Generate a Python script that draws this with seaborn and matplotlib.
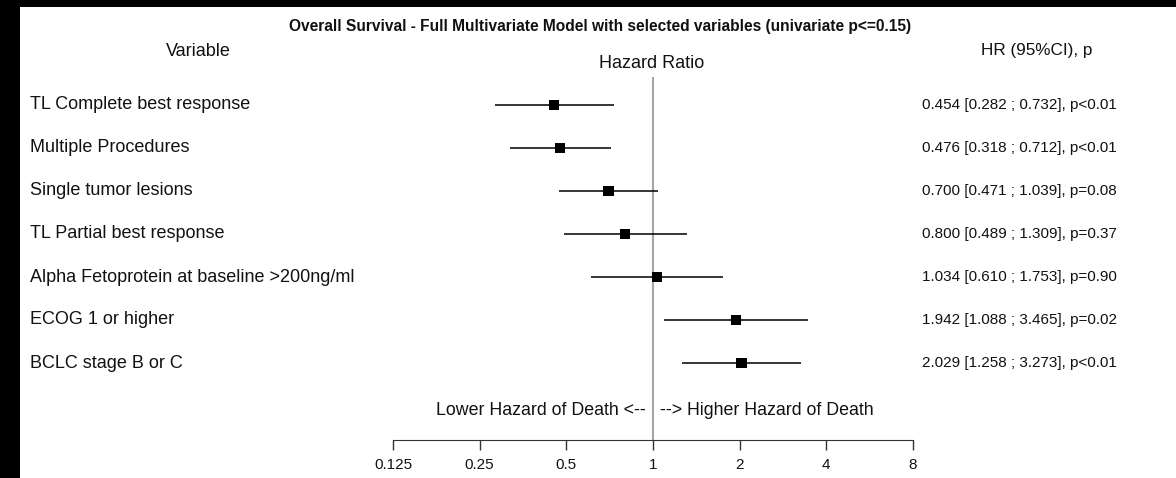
import matplotlib
matplotlib.use("Agg")
import matplotlib.pyplot as plt
import matplotlib.patches as mpatches
import matplotlib.transforms as mtransforms
import numpy as np
import pandas as pd
import seaborn as sns

# Data.
variables = [
    "TL Complete best response",
    "Multiple Procedures",
    "Single tumor lesions",
    "TL Partial best response",
    "Alpha Fetoprotein at baseline >200ng/ml",
    "ECOG 1 or higher",
    "BCLC stage B or C",
]
hr = [0.454, 0.476, 0.700, 0.800, 1.034, 1.942, 2.029]
ci_low = [0.282, 0.318, 0.471, 0.489, 0.610, 1.088, 1.258]
ci_high = [0.732, 0.712, 1.039, 1.309, 1.753, 3.465, 3.273]
p_text = ["p<0.01", "p<0.01", "p=0.08", "p=0.37", "p=0.90", "p=0.02", "p<0.01"]
x_ticks = [0.125, 0.25, 0.5, 1, 2, 4, 8]
x_tick_labels = ["0.125", "0.25", "0.5", "1", "2", "4", "8"]

title = "Overall Survival - Full Multivariate Model with selected variables (univariate p<=0.15)"

df = pd.DataFrame({
    "variable": variables,
    "hr": hr,
    "low": ci_low,
    "high": ci_high,
    "p": p_text,
})
df["row"] = np.arange(len(df))

W, H = 1176, 478
sns.set_style("white")
plt.rcParams["font.family"] = ["Liberation Sans", "DejaVu Sans"]
txt_color = "#111111"

fig = plt.figure(figsize=(W / 100, H / 100), dpi=100, facecolor="#000000")
# white page with black strip on top and left
fig.patches.append(mpatches.Rectangle(
    (20 / W, 0), 1 - 20 / W, 1 - 7 / H, transform=fig.transFigure,
    facecolor="white", edgecolor="none", zorder=-10))

# axes in pixel layout
ax_left, ax_right, ax_top, ax_bottom = 393, 913, 77, 440
ax = fig.add_axes([ax_left / W, 1 - ax_bottom / H,
                   (ax_right - ax_left) / W, (ax_bottom - ax_top) / H])
ax.patch.set_alpha(0)
ax.set_zorder(5)

row0, step = 105.0, 43.0
ax.set_xscale("log", base=2)
ax.set_xlim(0.125, 8)
ax.set_ylim((ax_bottom - row0) / step, -(row0 - ax_top) / step)

ax.axvline(1, color="#a6a6a6", lw=1.5, zorder=1)
ax.hlines(df["row"], df["low"], df["high"], color="#000000", lw=1.1, zorder=2)
sns.scatterplot(data=df, x="hr", y="row", marker="s", s=55, color="#000000",
                edgecolor="none", ax=ax, zorder=3, legend=False)

ax.set_xticks(x_ticks)
ax.set_xticklabels(x_tick_labels, fontsize=11)
ax.minorticks_off()
ax.set_yticks([])
ax.set_xlabel("")
ax.set_ylabel("")
for side in ["top", "right", "left"]:
    ax.spines[side].set_visible(False)
ax.spines["bottom"].set_bounds(0.125, 8)
ax.spines["bottom"].set_color("#333333")
ax.tick_params(axis="x", direction="out", length=7, width=1, color="#333333",
               pad=6, labelcolor=txt_color, bottom=True)

# left labels and right estimates
trans = mtransforms.blended_transform_factory(fig.transFigure, ax.transData)
for _, r in df.iterrows():
    ax.text(30 / W, r["row"], r["variable"], transform=trans, ha="left",
            va="center", fontsize=13, color=txt_color)
    est = "{:.3f} [{:.3f} ; {:.3f}], {}".format(r["hr"], r["low"], r["high"], r["p"])
    ax.text(922 / W, r["row"], est, transform=trans, ha="left",
            va="center", fontsize=11, color=txt_color)

# direction labels
dir_row = len(df) + 0.1
ax.annotate("Lower Hazard of Death <--", xy=(1, dir_row), xytext=(-5, 0),
            textcoords="offset points", ha="right", va="center",
            fontsize=12.8, color=txt_color)
ax.annotate("--> Higher Hazard of Death", xy=(1, dir_row), xytext=(5, 0),
            textcoords="offset points", ha="left", va="center",
            fontsize=12.8, color=txt_color)

# headers
fig.text(600 / W, 1 - 26 / H, title, ha="center", va="center",
         fontsize=11.2, fontweight="bold", color=txt_color)
fig.text(198 / W, 1 - 51 / H, "Variable", ha="center", va="center",
         fontsize=13, color=txt_color)
fig.text(652 / W, 1 - 63 / H, "Hazard Ratio", ha="center", va="center",
         fontsize=13, color=txt_color)
fig.text(1037 / W, 1 - 50 / H, "HR (95%CI), p", ha="center", va="center",
         fontsize=12.3, color=txt_color)

fig.savefig("out.png", dpi=100, facecolor=fig.get_facecolor())
plt.close()
